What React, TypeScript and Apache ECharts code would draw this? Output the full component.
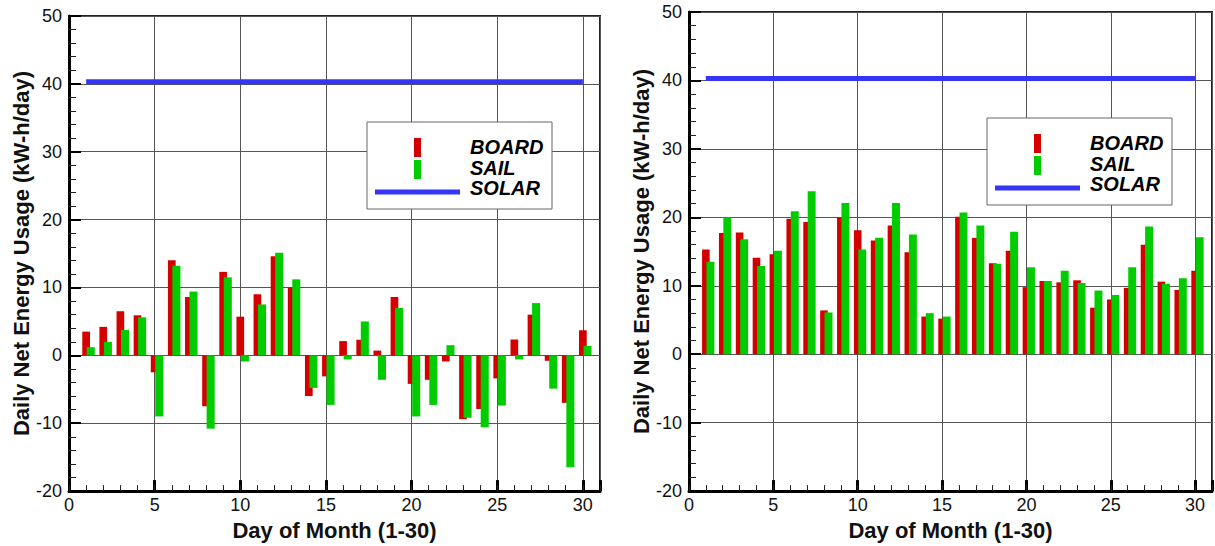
import React, { useEffect, useRef } from "react";
import * as echarts from "echarts";

const DAYS = [1, 2, 3, 4, 5, 6, 7, 8, 9, 10, 11, 12, 13, 14, 15, 16, 17, 18, 19, 20, 21, 22, 23, 24, 25, 26, 27, 28, 29, 30];

const LEFT_BOARD = [3.5, 4.2, 6.5, 5.9, -2.5, 14.0, 8.6, -7.5, 12.3, 5.7, 9.0, 14.6, 10.0, -6.0, -3.1, 2.1, 2.3, 0.7, 8.6, -4.2, -3.6, -0.9, -9.4, -7.9, -3.4, 2.35, 6.0, -0.8, -7.0, 3.7];
const LEFT_SAIL = [1.2, 2.0, 3.75, 5.6, -9.0, 13.2, 9.4, -10.8, 11.5, -0.9, 7.5, 15.1, 11.2, -4.8, -7.3, -0.6, 5.0, -3.6, 7.0, -9.0, -7.3, 1.5, -9.2, -10.6, -7.4, -0.6, 7.7, -4.9, -16.5, 1.4];

const RIGHT_BOARD = [15.3, 17.7, 17.8, 14.1, 14.6, 19.8, 19.3, 6.4, 20.0, 18.1, 16.6, 18.8, 14.9, 5.5, 5.2, 20.1, 17.0, 13.3, 15.1, 9.8, 10.7, 10.5, 10.8, 6.8, 8.0, 9.7, 16.0, 10.6, 9.4, 12.2];
const RIGHT_SAIL = [13.5, 20.0, 16.8, 12.9, 15.1, 20.9, 23.8, 6.1, 22.1, 15.3, 17.0, 22.1, 17.5, 6.0, 5.5, 20.7, 18.8, 13.2, 17.9, 12.7, 10.7, 12.2, 10.4, 9.3, 8.65, 12.7, 18.65, 10.3, 11.1, 17.1];

const SOLAR_DAYS = [1, 30];
const SOLAR_VALUE = 40.3;

const SERIES_NAMES = ["BOARD", "SAIL", "SOLAR"];
const X_TITLE = "Day of Month (1-30)";
const Y_TITLE = "Daily Net Energy Usage (kW-h/day)";

const RED = "#d40000";
const GREEN = "#00cc00";
const BLUE = "#3535f8";
const GRID_COLOR = "#555";
const FONT = "'Liberation Sans', Arial, sans-serif";

function barRenderer(color: string, off0: number, off1: number) {
  return (params: any, api: any) => {
    const x = api.value(0);
    const y = api.value(1);
    const p0 = api.coord([x + off0, y]);
    const p1 = api.coord([x + off1, 0]);
    return {
      type: "rect",
      shape: {
        x: p0[0],
        y: Math.min(p0[1], p1[1]),
        width: p1[0] - p0[0],
        height: Math.abs(p1[1] - p0[1]),
      },
      style: { fill: color },
    };
  };
}

function legendGraphics(dx: number, dy: number) {
  const textStyle = (t: string, y: number) => ({
    type: "text",
    z: 101,
    style: {
      text: t,
      x: 470 + dx,
      y: y + dy,
      fill: "#000",
      font: `italic bold 20px ${FONT}`,
      textVerticalAlign: "middle",
      verticalAlign: "middle",
      textAlign: "left",
      align: "left",
    },
  });
  return [
    {
      type: "rect",
      z: 100,
      shape: { x: 367 + dx, y: 122 + dy, width: 185, height: 87 },
      style: { fill: "#fff", stroke: "#666", lineWidth: 1 },
    },
    {
      type: "rect",
      z: 101,
      shape: { x: 414 + dx, y: 138 + dy, width: 7, height: 19 },
      style: { fill: RED },
    },
    {
      type: "rect",
      z: 101,
      shape: { x: 414 + dx, y: 160 + dy, width: 7, height: 19 },
      style: { fill: GREEN },
    },
    {
      type: "line",
      z: 101,
      shape: { x1: 375 + dx, y1: 192 + dy, x2: 460 + dx, y2: 192 + dy },
      style: { stroke: BLUE, lineWidth: 5 },
    },
    textStyle(SERIES_NAMES[0], 147),
    textStyle(SERIES_NAMES[1], 167.5),
    textStyle(SERIES_NAMES[2], 188),
  ];
}

function xAxes(gridIndex: number) {
  return [
    {
      type: "value",
      gridIndex,
      min: 0,
      max: 31,
      interval: 5,
      position: "bottom",
      axisLine: { show: true, onZero: false, lineStyle: { color: "#000", width: 3 } },
      axisTick: { show: true, inside: true, length: 11, lineStyle: { color: "#000", width: 3 } },
      splitLine: { show: true, lineStyle: { color: GRID_COLOR, width: 1 } },
      axisLabel: {
        fontSize: 18,
        color: "#111",
        fontFamily: FONT,
        margin: 5,
        formatter: (v: number) => (v % 5 === 0 && v <= 30 ? String(v) : ""),
      },
      name: X_TITLE,
      nameLocation: "middle",
      nameGap: 19,
      nameTextStyle: { fontSize: 22, fontWeight: "bold", color: "#111", fontFamily: FONT },
    },
    {
      type: "value",
      gridIndex,
      min: 0,
      max: 31,
      interval: 1,
      position: "bottom",
      axisLine: { show: false, onZero: false },
      axisTick: { show: true, inside: true, length: 6, lineStyle: { color: "#222", width: 1 } },
      splitLine: { show: false },
      axisLabel: { show: false },
    },
  ];
}

function yAxis(gridIndex: number) {
  return {
    type: "value",
    gridIndex,
    min: -20,
    max: 50,
    interval: 10,
    axisLine: { show: true, onZero: false, lineStyle: { color: "#000", width: 3 } },
    axisTick: { show: true, inside: true, length: 12, lineStyle: { color: "#000", width: 2 } },
    minorTick: { show: true, splitNumber: 5, length: 7, lineStyle: { color: "#222", width: 1 } },
    splitLine: { show: true, lineStyle: { color: GRID_COLOR, width: 1 } },
    axisLabel: { fontSize: 18, color: "#111", fontFamily: FONT, margin: 7 },
    name: Y_TITLE,
    nameLocation: "middle",
    nameRotate: 90,
    nameGap: 37,
    nameTextStyle: { fontSize: 22, fontWeight: "bold", color: "#111", fontFamily: FONT },
  };
}

function panelSeries(board: number[], sail: number[], xIdx: number, yIdx: number) {
  return [
    {
      name: SERIES_NAMES[0],
      type: "custom",
      xAxisIndex: xIdx,
      yAxisIndex: yIdx,
      encode: { x: 0, y: 1 },
      data: DAYS.map((d, i) => [d, board[i]]),
      renderItem: barRenderer(RED, -0.225, 0.225),
      z: 2,
    },
    {
      name: SERIES_NAMES[1],
      type: "custom",
      xAxisIndex: xIdx,
      yAxisIndex: yIdx,
      encode: { x: 0, y: 1 },
      data: DAYS.map((d, i) => [d, sail[i]]),
      renderItem: barRenderer(GREEN, 0.035, 0.505),
      z: 3,
    },
    {
      name: SERIES_NAMES[2],
      type: "line",
      xAxisIndex: xIdx,
      yAxisIndex: yIdx,
      data: SOLAR_DAYS.map((d) => [d, SOLAR_VALUE]),
      symbol: "none",
      lineStyle: { color: BLUE, width: 5 },
      z: 4,
    },
  ];
}

export default function App() {
  const ref = useRef<HTMLDivElement>(null);
  useEffect(() => {
    if (!ref.current) return;
    const chart = echarts.init(ref.current, undefined, { renderer: "svg" });
    chart.setOption({
      animation: false,
      backgroundColor: "#fff",
      grid: [
        { left: 69, top: 16, width: 531, height: 484, show: true, borderColor: "#222", borderWidth: 2 },
        { left: 689, top: 12, width: 531, height: 484, show: true, borderColor: "#222", borderWidth: 2 },
      ],
      xAxis: [...xAxes(0), ...xAxes(1)],
      yAxis: [yAxis(0), yAxis(1)],
      series: [
        ...panelSeries(LEFT_BOARD, LEFT_SAIL, 0, 0),
        ...panelSeries(RIGHT_BOARD, RIGHT_SAIL, 2, 1),
      ],
      graphic: [...legendGraphics(0, 0), ...legendGraphics(620, -4)],
    });
    return () => chart.dispose();
  }, []);
  return (
    <div
      ref={ref}
      style={{ position: "absolute", left: 0, top: 0, width: 1215, height: 546, background: "#fff" }}
    />
  );
}
